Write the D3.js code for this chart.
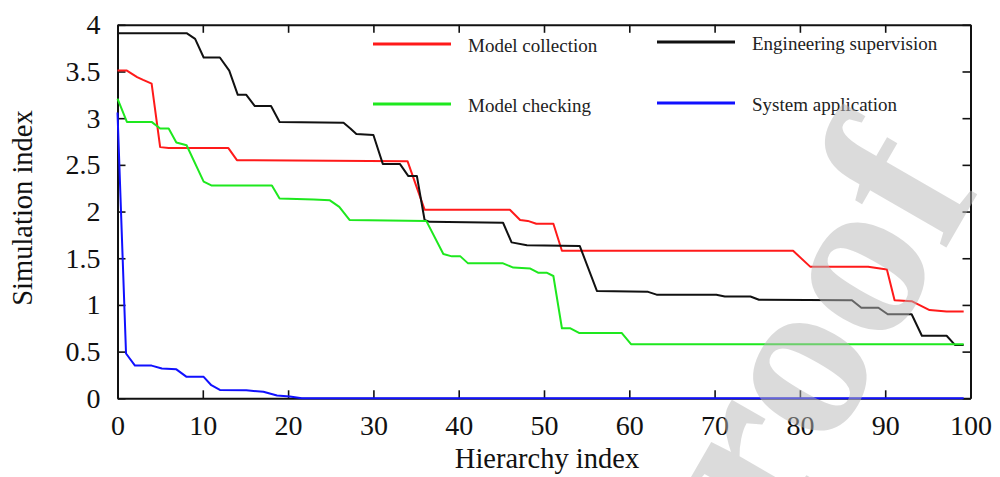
<!DOCTYPE html>
<html>
<head>
<meta charset="utf-8">
<script src="https://cdn.jsdelivr.net/npm/d3@7"></script>
<style>
  body { margin: 0; background: #fff; }
  svg { display: block; font-family: "Liberation Serif", "Times New Roman", serif; }
</style>
</head>
<body>
<div id="chart"></div>
<script>
// series: hierarchy index (x) and simulation index (y) at breakpoints
var collectionX = [0, 1.1, 2.3, 3, 4, 5, 6, 13, 14, 34, 36, 46, 47.2, 48.1, 49.1, 51.1, 52.1, 79.2, 81.2, 88, 90.2, 91.1, 93.1, 95.2, 97.2, 99.2];
var collectionY = [3.51, 3.51, 3.44, 3.41, 3.37, 2.69, 2.68, 2.68, 2.55, 2.54, 2.02, 2.02, 1.91, 1.9, 1.87, 1.87, 1.58, 1.58, 1.41, 1.41, 1.38, 1.05, 1.04, 0.945, 0.93, 0.93];

var supervisionX = [0, 8.1, 9.1, 10.1, 12, 13.1, 14.1, 15.1, 16.1, 18, 19, 26.5, 27.3, 28, 30, 31.1, 33.1, 34.1, 35.1, 36, 36.6, 45.2, 46.2, 48, 54.2, 56.2, 62.2, 63.2, 70.2, 71.2, 74.2, 75.2, 86.1, 87.2, 89.2, 90.3, 93.1, 94.3, 97.2, 98.2, 99.2];
var supervisionY = [3.91, 3.91, 3.85, 3.65, 3.65, 3.51, 3.25, 3.25, 3.13, 3.13, 2.96, 2.95, 2.89, 2.83, 2.82, 2.51, 2.51, 2.38, 2.38, 1.91, 1.89, 1.88, 1.67, 1.64, 1.63, 1.15, 1.14, 1.11, 1.11, 1.09, 1.09, 1.055, 1.05, 0.97, 0.97, 0.9, 0.9, 0.67, 0.67, 0.57, 0.57];

var checkingX = [0, 1.1, 4, 5, 6, 6.9, 8.1, 10.1, 11, 18.1, 19, 23, 24.9, 26, 27.2, 36.2, 38.2, 39.2, 40.2, 41.1, 45.2, 46.4, 48.4, 49.3, 50.3, 51.1, 52.1, 53.1, 54.1, 59.1, 60.2, 99.2];
var checkingY = [3.21, 2.96, 2.96, 2.89, 2.89, 2.74, 2.71, 2.32, 2.28, 2.28, 2.14, 2.13, 2.12, 2.05, 1.91, 1.9, 1.545, 1.52, 1.52, 1.445, 1.445, 1.4, 1.39, 1.345, 1.345, 1.31, 0.75, 0.75, 0.7, 0.7, 0.58, 0.58];

var applicationX = [0, 1, 2.05, 4, 5.2, 6.9, 8.1, 10.1, 11, 12, 15.1, 17.1, 18.7, 20.2, 21.6, 99.2];
var applicationY = [3.06, 0.48, 0.35, 0.35, 0.32, 0.31, 0.23, 0.23, 0.14, 0.09, 0.085, 0.07, 0.03, 0.02, 0, 0];

var seriesNames = ["Model collection", "Engineering supervision", "Model checking", "System application"];
var seriesColors = ["#ff1a1a", "#111111", "#1ee81e", "#1010ff"];

var xTicks = [0, 10, 20, 30, 40, 50, 60, 70, 80, 90, 100];
var yTicks = [0, 0.5, 1, 1.5, 2, 2.5, 3, 3.5, 4];

var margin = {top: 24.8, right: 29.5, bottom: 78.7, left: 117.5},
    width = 1000 - margin.left - margin.right,
    height = 477 - margin.top - margin.bottom;

var svg = d3.select("#chart")
  .append("svg")
    .attr("width", 1000)
    .attr("height", 477);

var g = svg.append("g")
    .attr("transform", "translate(" + margin.left + "," + margin.top + ")");

var x = d3.scaleLinear().domain([0, 100]).range([0, width]);
var y = d3.scaleLinear().domain([0, 4]).range([height, 0]);

// frame with inward ticks on all four sides
g.append("g")
  .attr("class", "axis")
  .attr("transform", "translate(0," + height + ")")
  .call(d3.axisBottom(x).tickValues(xTicks).tickSizeInner(-8).tickSizeOuter(0).tickPadding(17));
g.append("g")
  .attr("class", "axis noLabel")
  .call(d3.axisTop(x).tickValues(xTicks).tickSizeInner(-8).tickSizeOuter(0).tickFormat(""));
g.append("g")
  .attr("class", "axis")
  .call(d3.axisLeft(y).tickValues(yTicks).tickSizeInner(-8).tickSizeOuter(0).tickPadding(17)
    .tickFormat(function (d) { return d; }));
g.append("g")
  .attr("class", "axis noLabel")
  .attr("transform", "translate(" + width + ",0)")
  .call(d3.axisRight(y).tickValues(yTicks).tickSizeInner(-8).tickSizeOuter(0).tickFormat(""));

g.selectAll(".axis path").attr("stroke", "#111").attr("stroke-width", 2);
g.selectAll(".axis line").attr("stroke", "#111").attr("stroke-width", 1.6);
g.selectAll(".axis text")
  .attr("fill", "#111")
  .style("font-family", "'Liberation Serif', serif")
  .style("font-size", "28px");

// lines
var series = [
  {xs: collectionX, ys: collectionY},
  {xs: supervisionX, ys: supervisionY},
  {xs: checkingX, ys: checkingY},
  {xs: applicationX, ys: applicationY}
];
var line = d3.line()
  .x(function (d) { return x(d[0]); })
  .y(function (d) { return y(d[1]); });

series.forEach(function (s, i) {
  g.append("path")
    .datum(d3.zip(s.xs, s.ys))
    .attr("fill", "none")
    .attr("stroke", seriesColors[i])
    .attr("stroke-width", 2)
    .attr("stroke-linejoin", "round")
    .attr("d", line);
});

// legend, two columns
var legendPos = [[373, 44], [657, 42], [373, 104], [657, 103]];
seriesNames.forEach(function (name, i) {
  var p = legendPos[i];
  svg.append("line")
    .attr("x1", p[0]).attr("x2", p[0] + 78)
    .attr("y1", p[1]).attr("y2", p[1])
    .attr("stroke", seriesColors[i])
    .attr("stroke-width", 3);
  svg.append("text")
    .attr("x", p[0] + 95)
    .attr("y", p[1] + 7.5)
    .attr("fill", "#222")
    .style("font-size", "19px")
    .text(name);
});

// axis titles
svg.append("text")
  .attr("x", 547)
  .attr("y", 468)
  .attr("text-anchor", "middle")
  .attr("fill", "#111")
  .style("font-size", "28.5px")
  .text("Hierarchy index");

svg.append("text")
  .attr("transform", "translate(32,208) rotate(-90)")
  .attr("text-anchor", "middle")
  .attr("fill", "#111")
  .style("font-size", "28.5px")
  .text("Simulation index");

// grey watermark across the right side
svg.append("text")
  .attr("transform", "translate(982,186) rotate(-60)")
  .attr("text-anchor", "end")
  .attr("fill", "#b8b8b8")
  .attr("opacity", 0.5)
  .style("font-size", "232px")
  .style("font-weight", "bold")
  .text("Journal Pre-proof");
</script>
</body>
</html>
